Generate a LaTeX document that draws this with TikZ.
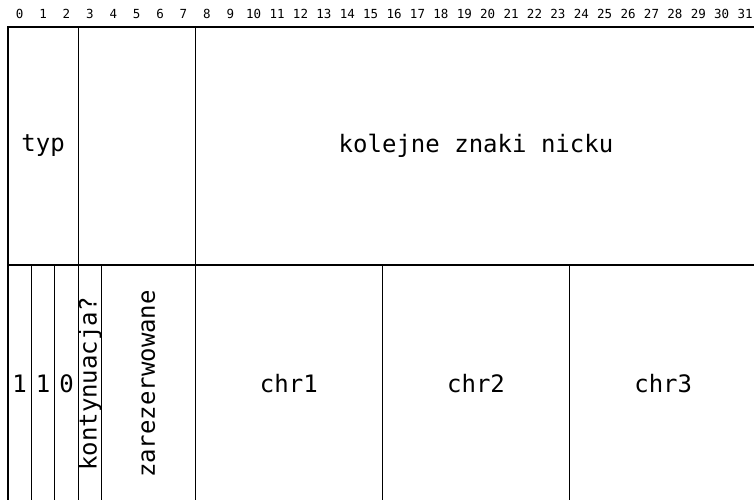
\documentclass[tikz,border=0pt]{standalone}
\usepackage{fontspec}
\usepackage{tikz}
\usepackage{xcolor}
\usetikzlibrary{positioning, calc}

\newfontfamily\polefont{DejaVu Sans Mono}

\begin{document}
\begin{tikzpicture}[
    x=1pt,
    y=-1pt,
    every node/.style={font=\polefont\fontsize{24pt}{28pt}\selectfont},
    field/.style={
        rectangle,
        draw,
        line width=1.1pt,
        inner sep=0pt,
        outer sep=0pt,
        minimum height=238pt,
        align=center
    },
    bitnum/.style={
        font=\polefont\fontsize{12.5pt}{14pt}\selectfont,
        inner sep=0pt
    },
    pion/.style={
        rotate=90,
        inner sep=0pt
    }
]

\useasboundingbox (0,0) rectangle (754,499);

% Numery bitow
\foreach \i in {0,...,31}
    \node[bitnum] (b\i) at ({8+23.4*(\i+0.5)},14) {\i};

% Pierwszy wiersz
\node[field, minimum width=70.2pt] (typ) at (43.1,146) {typ};

\node[field, minimum width=117pt] (pusty) at (136.7,146) {};

\node[field, minimum width=561.6pt] (nick) at (476,146) {kolejne znaki nicku};


% Drugi wiersz
\node[field, minimum width=23.4pt] (bita) at (19.7,384) {1};

\node[field, minimum width=23.4pt] (bitb) at (43.1,384) {1};

\node[field, minimum width=23.4pt] (bitc) at (66.5,384) {0};

\node[field, minimum width=23.4pt] (kont) at (89.9,384) {};
\node[pion] (konttxt) at (kont.center) {kontynuacja?};

\node[field, minimum width=93.6pt] (rez) at (148.4,384) {};
\node[pion] (reztxt) at (rez.center) {zarezerwowane};

\node[field, minimum width=187.2pt] (chra) at (288.8,384) {chr1};

\node[field, minimum width=187.2pt] (chrb) at (476,384) {chr2};

\node[field, minimum width=187.2pt] (chrc) at (663.2,384) {chr3};

\end{tikzpicture}
\end{document}
